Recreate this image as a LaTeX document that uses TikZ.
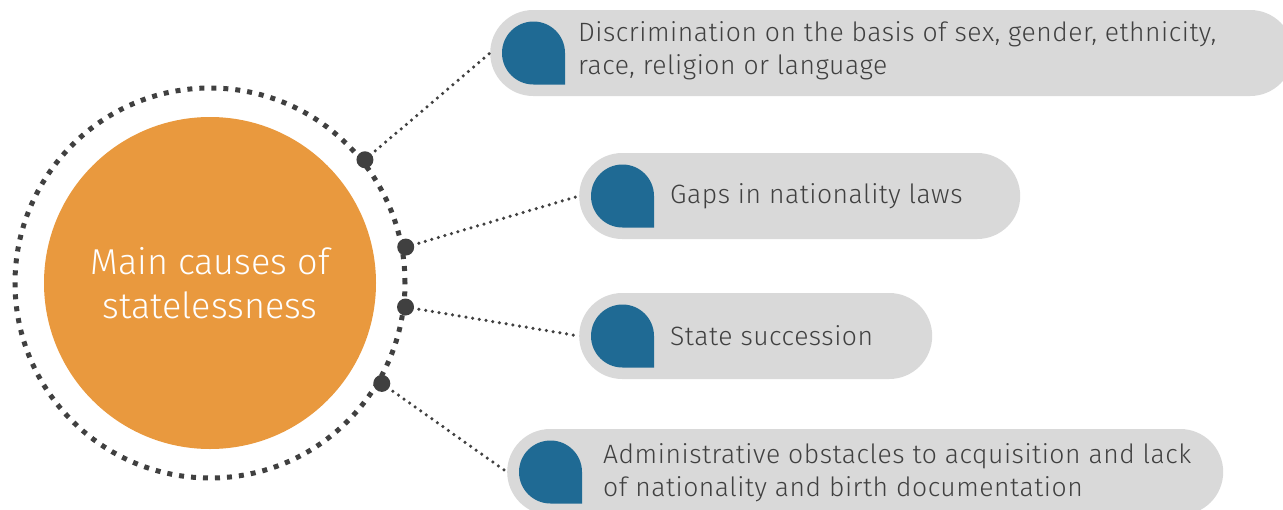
\documentclass[tikz,border=0pt]{standalone}
\usepackage{fontspec}
\setmainfont{Fira Sans}[UprightFont={* Light}]
\newfontfamily\causefont{Fira Sans}[UprightFont={* Light}, LetterSpace=2]
\usetikzlibrary{positioning}

\definecolor{causeorange}{RGB}{233,153,62}
\definecolor{dropblue}{RGB}{31,106,148}
\definecolor{pillgray}{RGB}{217,217,217}
\definecolor{inkgray}{RGB}{64,64,64}

\begin{document}
\begin{tikzpicture}[x=1pt, y=1pt,
					hub/.style={circle, fill=causeorange, minimum size=332pt, inner sep=0pt, align=center, text=white, font=\fontsize{36}{44}\selectfont},
					pill/.style={rectangle, rounded corners=43pt, fill=pillgray, minimum height=86pt, anchor=west, inner sep=0pt},
					cause/.style={anchor=west, align=left, inner sep=0pt, text=inkgray, font=\causefont\fontsize{26.5}{33}\selectfont},
					ring/.style={draw=inkgray, line width=5pt, dash pattern=on 5pt off 7pt},
					link/.style={draw=inkgray, line width=3.5pt, line cap=round, dash pattern=on 0pt off 6.8pt},
					knob/.style={fill=inkgray},
					drop/.pic={\fill[dropblue] (-31.5,0) arc[start angle=180, end angle=0, radius=31.5pt] -- (31.5,-31.5) -- (0,-31.5) arc[start angle=270, end angle=180, radius=31.5pt] -- cycle;}]
					\clip (0,0) rectangle (1283,-509);
					% centre
					\node[hub] (hub) at (210,-283) {Main causes of\\statelessness};
					\draw[ring] (hub.center) circle[radius=195pt];
					% pills
					\node[pill, minimum width=803pt] (p1) at (490,-53) {};
					\node[pill, minimum width=441pt] (p2) at (579,-196) {};
					\node[pill, minimum width=353pt] (p3) at (579,-336) {};
					\node[pill, minimum width=716pt] (p4) at (507,-472) {};
					\foreach \p in {p1,p2,p3,p4}
						\pic at ([xshift=43.5pt]\p.west) {drop};
					\node[cause] (t1) at ([xshift=88pt, yshift=2pt]p1.west) {Discrimination on the basis of sex, gender, ethnicity,\\race, religion or language};
					\node[cause] (t2) at ([xshift=91pt]p2.west) {Gaps in nationality laws};
					\node[cause] (t3) at ([xshift=91pt]p3.west) {State succession};
					\node[cause] (t4) at ([xshift=96pt, yshift=-1pt]p4.west) {Administrative obstacles to acquisition and lack\\of nationality and birth documentation};
					% connectors
					\coordinate (d1) at ([shift={(38.5:198)}]hub.center);
					\coordinate (d2) at ([shift={(10.4:199)}]hub.center);
					\coordinate (d3) at ([shift={(-7:197)}]hub.center);
					\coordinate (d4) at ([shift={(-30.3:199)}]hub.center);
					\draw[link] (d1) -- (p1.west);
					\draw[link] (d2) -- (p2.west);
					\draw[link] (d3) -- (p3.west);
					\draw[link] (d4) -- (p4.west);
					\foreach \d in {d1,d2,d3,d4}
						\fill[knob] (\d) circle[radius=8.5pt];
				\end{tikzpicture}
\end{document}
